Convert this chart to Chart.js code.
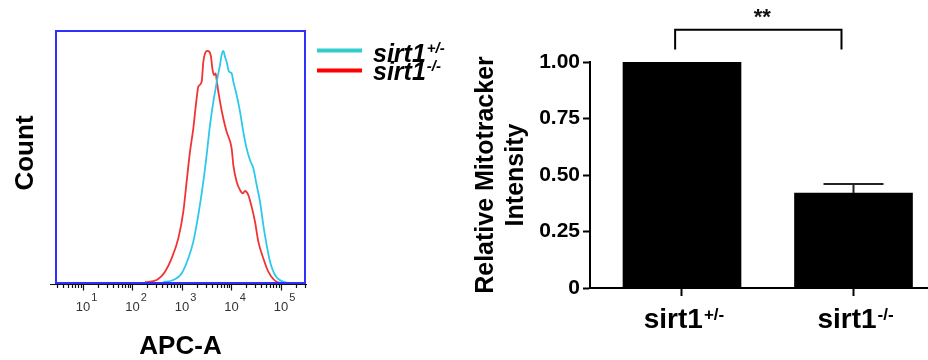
<!DOCTYPE html>
<html>
<head>
<meta charset="utf-8">
<script src="https://cdn.jsdelivr.net/npm/chart.js@4.4.0/dist/chart.umd.min.js"></script>
<style>
  html, body { margin: 0; padding: 0; background: #fff; }
  #wrap { position: relative; width: 928px; height: 360px; overflow: hidden; }
  #histo { position: absolute; left: 0; top: 0; }
  #bars { position: absolute; left: 465px; top: 0; }
</style>
</head>
<body>
<div id="wrap">
  <canvas id="histo" width="465" height="360"></canvas>
  <canvas id="bars" width="463" height="360"></canvas>
</div>
<script>
// flow histogram, APC-A intensity vs count (count as % of frame height)
var hetApc = [420, 668, 984, 1343, 1694, 2138, 2698, 3148, 3681, 4296, 4786, 5260, 5861, 6325, 6840, 7390, 7980, 8895, 10070, 10890, 12710, 14860, 17340, 20230, 23640, 27610, 32240, 37640, 43950, 51290, 59930, 75640, 111400, 177500];
var hetCount = [0.3, 1.2, 3.8, 9.8, 16.4, 27.0, 40.2, 50.8, 62.7, 71.9, 77.2, 81.9, 86.5, 90.5, 92.1, 89.8, 87.8, 83.9, 83.2, 79.9, 74.6, 68.0, 60.0, 53.4, 48.8, 45.5, 38.9, 32.3, 23.0, 15.1, 8.5, 3.2, 0.5, 0];
var koApc = [179, 308, 454, 618, 843, 1064, 1242, 1451, 1694, 1977, 2138, 2497, 2698, 2915, 3250, 3565, 3855, 4100, 4427, 4786, 5012, 5420, 6040, 6840, 7980, 10070, 10890, 12710, 14860, 16820, 18750, 21880, 25530, 29850, 34830, 43950, 55460, 81660, 111400];
var koCount = [0.3, 1.2, 4.5, 9.8, 17.7, 28.3, 40.2, 52.1, 61.4, 73.3, 77.9, 79.9, 87.8, 91.1, 92.1, 91.8, 89.8, 85.2, 82.5, 83.2, 80.6, 75.9, 70.6, 65.3, 60.0, 53.4, 46.8, 40.2, 36.9, 35.6, 36.5, 34.9, 30.3, 24.3, 16.4, 9.8, 4.5, 0.5, 0];
var decades = [1, 2, 3, 4, 5];

// bar chart
var groups = ['sirt1', 'sirt1'];
var groupSup = ['+/-', '-/-'];
var means = [1.00, 0.42];
var sems = [0, 0.04];
var yTicks = [0, 0.25, 0.5, 0.75, 1.0];
var sigText = '**';

var FONT = '"Liberation Sans", Arial, sans-serif';

function pts(xs, ys) {
  var out = [];
  for (var i = 0; i < xs.length; i++) out.push({ x: xs[i], y: ys[i] });
  return out;
}

var histoDecor = {
  id: 'histoDecor',
  afterDraw: function (chart) {
    var ctx = chart.ctx, a = chart.chartArea, xs = chart.scales.x;
    ctx.save();
    // blue frame
    ctx.strokeStyle = '#2f2fff';
    ctx.lineWidth = 2;
    ctx.strokeRect(a.left, a.top, a.right - a.left, a.bottom - a.top);

    // black axis with log ticks
    var axisY = a.bottom + 1.5;
    ctx.strokeStyle = '#111';
    ctx.lineWidth = 1.2;
    ctx.beginPath();
    ctx.moveTo(a.left - 6, axisY);
    ctx.lineTo(a.right + 2, axisY);
    for (var n = 0; n <= 5; n++) {
      for (var k = 1; k <= 9; k++) {
        var v = k * Math.pow(10, n);
        if (v < xs.min || v > xs.max) continue;
        var px = Math.round(xs.getPixelForValue(v)) + 0.5;
        ctx.moveTo(px, axisY);
        ctx.lineTo(px, axisY + (k === 1 ? 6 : 3.5));
      }
    }
    ctx.stroke();

    // decade labels 10^n
    ctx.fillStyle = '#333';
    ctx.textBaseline = 'alphabetic';
    decades.forEach(function (d) {
      var px = xs.getPixelForValue(Math.pow(10, d));
      ctx.font = '13px ' + FONT;
      ctx.textAlign = 'center';
      ctx.fillText('10', px, 311);
      var w = ctx.measureText('10').width;
      ctx.font = '11px ' + FONT;
      ctx.textAlign = 'left';
      ctx.fillText(String(d), px + w / 2 + 1, 301);
    });

    // axis titles
    ctx.fillStyle = '#000';
    ctx.font = 'bold 26px ' + FONT;
    ctx.textAlign = 'center';
    ctx.fillText('APC-A', (a.left + a.right) / 2, 354);
    ctx.save();
    ctx.translate(33, (a.top + a.bottom) / 2 - 4);
    ctx.rotate(-Math.PI / 2);
    ctx.fillText('Count', 0, 0);
    ctx.restore();

    // legend
    var leg = [
      { color: '#33cccc', y: 50.5, sup: '+/-', base: 62 },
      { color: '#ff0000', y: 70.5, sup: '-/-', base: 80 }
    ];
    leg.forEach(function (l) {
      ctx.strokeStyle = l.color;
      ctx.lineWidth = 4;
      ctx.beginPath();
      ctx.moveTo(317, l.y);
      ctx.lineTo(362, l.y);
      ctx.stroke();
      ctx.fillStyle = '#000';
      ctx.textAlign = 'left';
      ctx.font = 'italic bold 25px ' + FONT;
      ctx.fillText('sirt1', 373, l.base);
      var w = ctx.measureText('sirt1').width;
      ctx.font = 'italic bold 15px ' + FONT;
      ctx.fillText(l.sup, 373 + w + 1, l.base - 9);
    });
    ctx.restore();
  }
};

new Chart(document.getElementById('histo'), {
  type: 'line',
  data: {
    datasets: [
      { label: 'sirt1+/-', data: pts(hetApc, hetCount), borderColor: '#2cc9eb', borderWidth: 1.8, pointRadius: 0, cubicInterpolationMode: 'monotone', fill: false },
      { label: 'sirt1-/-', data: pts(koApc, koCount), borderColor: '#f23333', borderWidth: 1.8, pointRadius: 0, cubicInterpolationMode: 'monotone', fill: false }
    ]
  },
  options: {
    responsive: false,
    animation: false,
    layout: { padding: { left: 56, right: 160, top: 31, bottom: 77 } },
    plugins: { legend: { display: false }, tooltip: { enabled: false } },
    scales: {
      x: { type: 'logarithmic', min: 2.85, max: 305500, display: false },
      y: { type: 'linear', min: 0, max: 100, display: false }
    }
  },
  plugins: [histoDecor]
});

var barDecor = {
  id: 'barDecor',
  afterDraw: function (chart) {
    var ctx = chart.ctx, xs = chart.scales.x, ys = chart.scales.y;
    ctx.save();
    // error bars (upper only)
    ctx.strokeStyle = '#222';
    ctx.lineWidth = 2;
    means.forEach(function (m, i) {
      if (!sems[i]) return;
      var px = xs.getPixelForValue(i);
      var y0 = ys.getPixelForValue(m);
      var y1 = ys.getPixelForValue(m + sems[i]);
      ctx.beginPath();
      ctx.moveTo(px, y0);
      ctx.lineTo(px, y1);
      ctx.moveTo(px - 30, y1);
      ctx.lineTo(px + 30, y1);
      ctx.stroke();
    });

    // significance bracket
    var bx0 = xs.getPixelForValue(-0.04), bx1 = xs.getPixelForValue(0.93);
    var by = ys.getPixelForValue(1.143), byLeg = ys.getPixelForValue(1.055);
    ctx.strokeStyle = '#000';
    ctx.lineWidth = 2;
    ctx.beginPath();
    ctx.moveTo(bx0, byLeg);
    ctx.lineTo(bx0, by);
    ctx.lineTo(bx1, by);
    ctx.lineTo(bx1, byLeg);
    ctx.stroke();
    ctx.fillStyle = '#111';
    ctx.font = 'bold 22px ' + FONT;
    ctx.textAlign = 'center';
    ctx.fillText(sigText, (bx0 + bx1) / 2 + 4, 24);

    // category labels with superscripts
    ctx.fillStyle = '#000';
    groups.forEach(function (g, i) {
      var px = xs.getPixelForValue(i);
      ctx.font = 'bold 28px ' + FONT;
      var w1 = ctx.measureText(g).width;
      ctx.font = 'bold 17px ' + FONT;
      var w2 = ctx.measureText(groupSup[i]).width;
      var x0 = px - (w1 + w2 + 1) / 2 + 2;
      ctx.textAlign = 'left';
      ctx.font = 'bold 28px ' + FONT;
      ctx.fillText(g, x0, 328);
      ctx.font = 'bold 17px ' + FONT;
      ctx.fillText(groupSup[i], x0 + w1 + 1, 320);
    });
    ctx.restore();
  }
};

new Chart(document.getElementById('bars'), {
  type: 'bar',
  data: {
    datasets: [{
      label: 'Relative Mitotracker Intensity',
      data: pts([0, 1], means),
      backgroundColor: '#000',
      borderWidth: 0,
      barThickness: 118
    }]
  },
  options: {
    responsive: false,
    animation: false,
    layout: { padding: { left: 0, right: 0, top: 62, bottom: 0 } },
    plugins: { legend: { display: false }, tooltip: { enabled: false } },
    scales: {
      x: {
        type: 'linear',
        min: -0.5364,
        max: 1.4344,
        offset: false,
        afterBuildTicks: function (scale) { scale.ticks = [{ value: 0 }, { value: 1 }]; },
        afterFit: function (scale) { scale.height = 72; },
        ticks: { display: false },
        grid: { offset: false, drawOnChartArea: false, drawTicks: true, tickLength: 8, tickWidth: 2, tickColor: '#000' },
        border: { display: true, color: '#000', width: 2 }
      },
      y: {
        type: 'linear',
        min: 0,
        max: 1,
        afterBuildTicks: function (scale) { scale.ticks = yTicks.map(function (v) { return { value: v }; }); },
        afterFit: function (scale) { scale.width = 125; },
        ticks: {
          color: '#000',
          padding: 3,
          font: { family: FONT, size: 21, weight: 'bold' },
          callback: function (v) { return v === 0 ? '0' : v.toFixed(2); }
        },
        grid: { drawOnChartArea: false, drawTicks: true, tickLength: 7, tickWidth: 2, tickColor: '#000' },
        border: { display: true, color: '#000', width: 2 },
        title: {
          display: true,
          text: ['Relative Mitotracker', 'Intensity'],
          color: '#000',
          font: { family: FONT, size: 25, weight: 'bold', lineHeight: 1.2 },
          padding: { top: 6, bottom: 0 }
        }
      }
    }
  },
  plugins: [barDecor]
});
</script>
</body>
</html>
